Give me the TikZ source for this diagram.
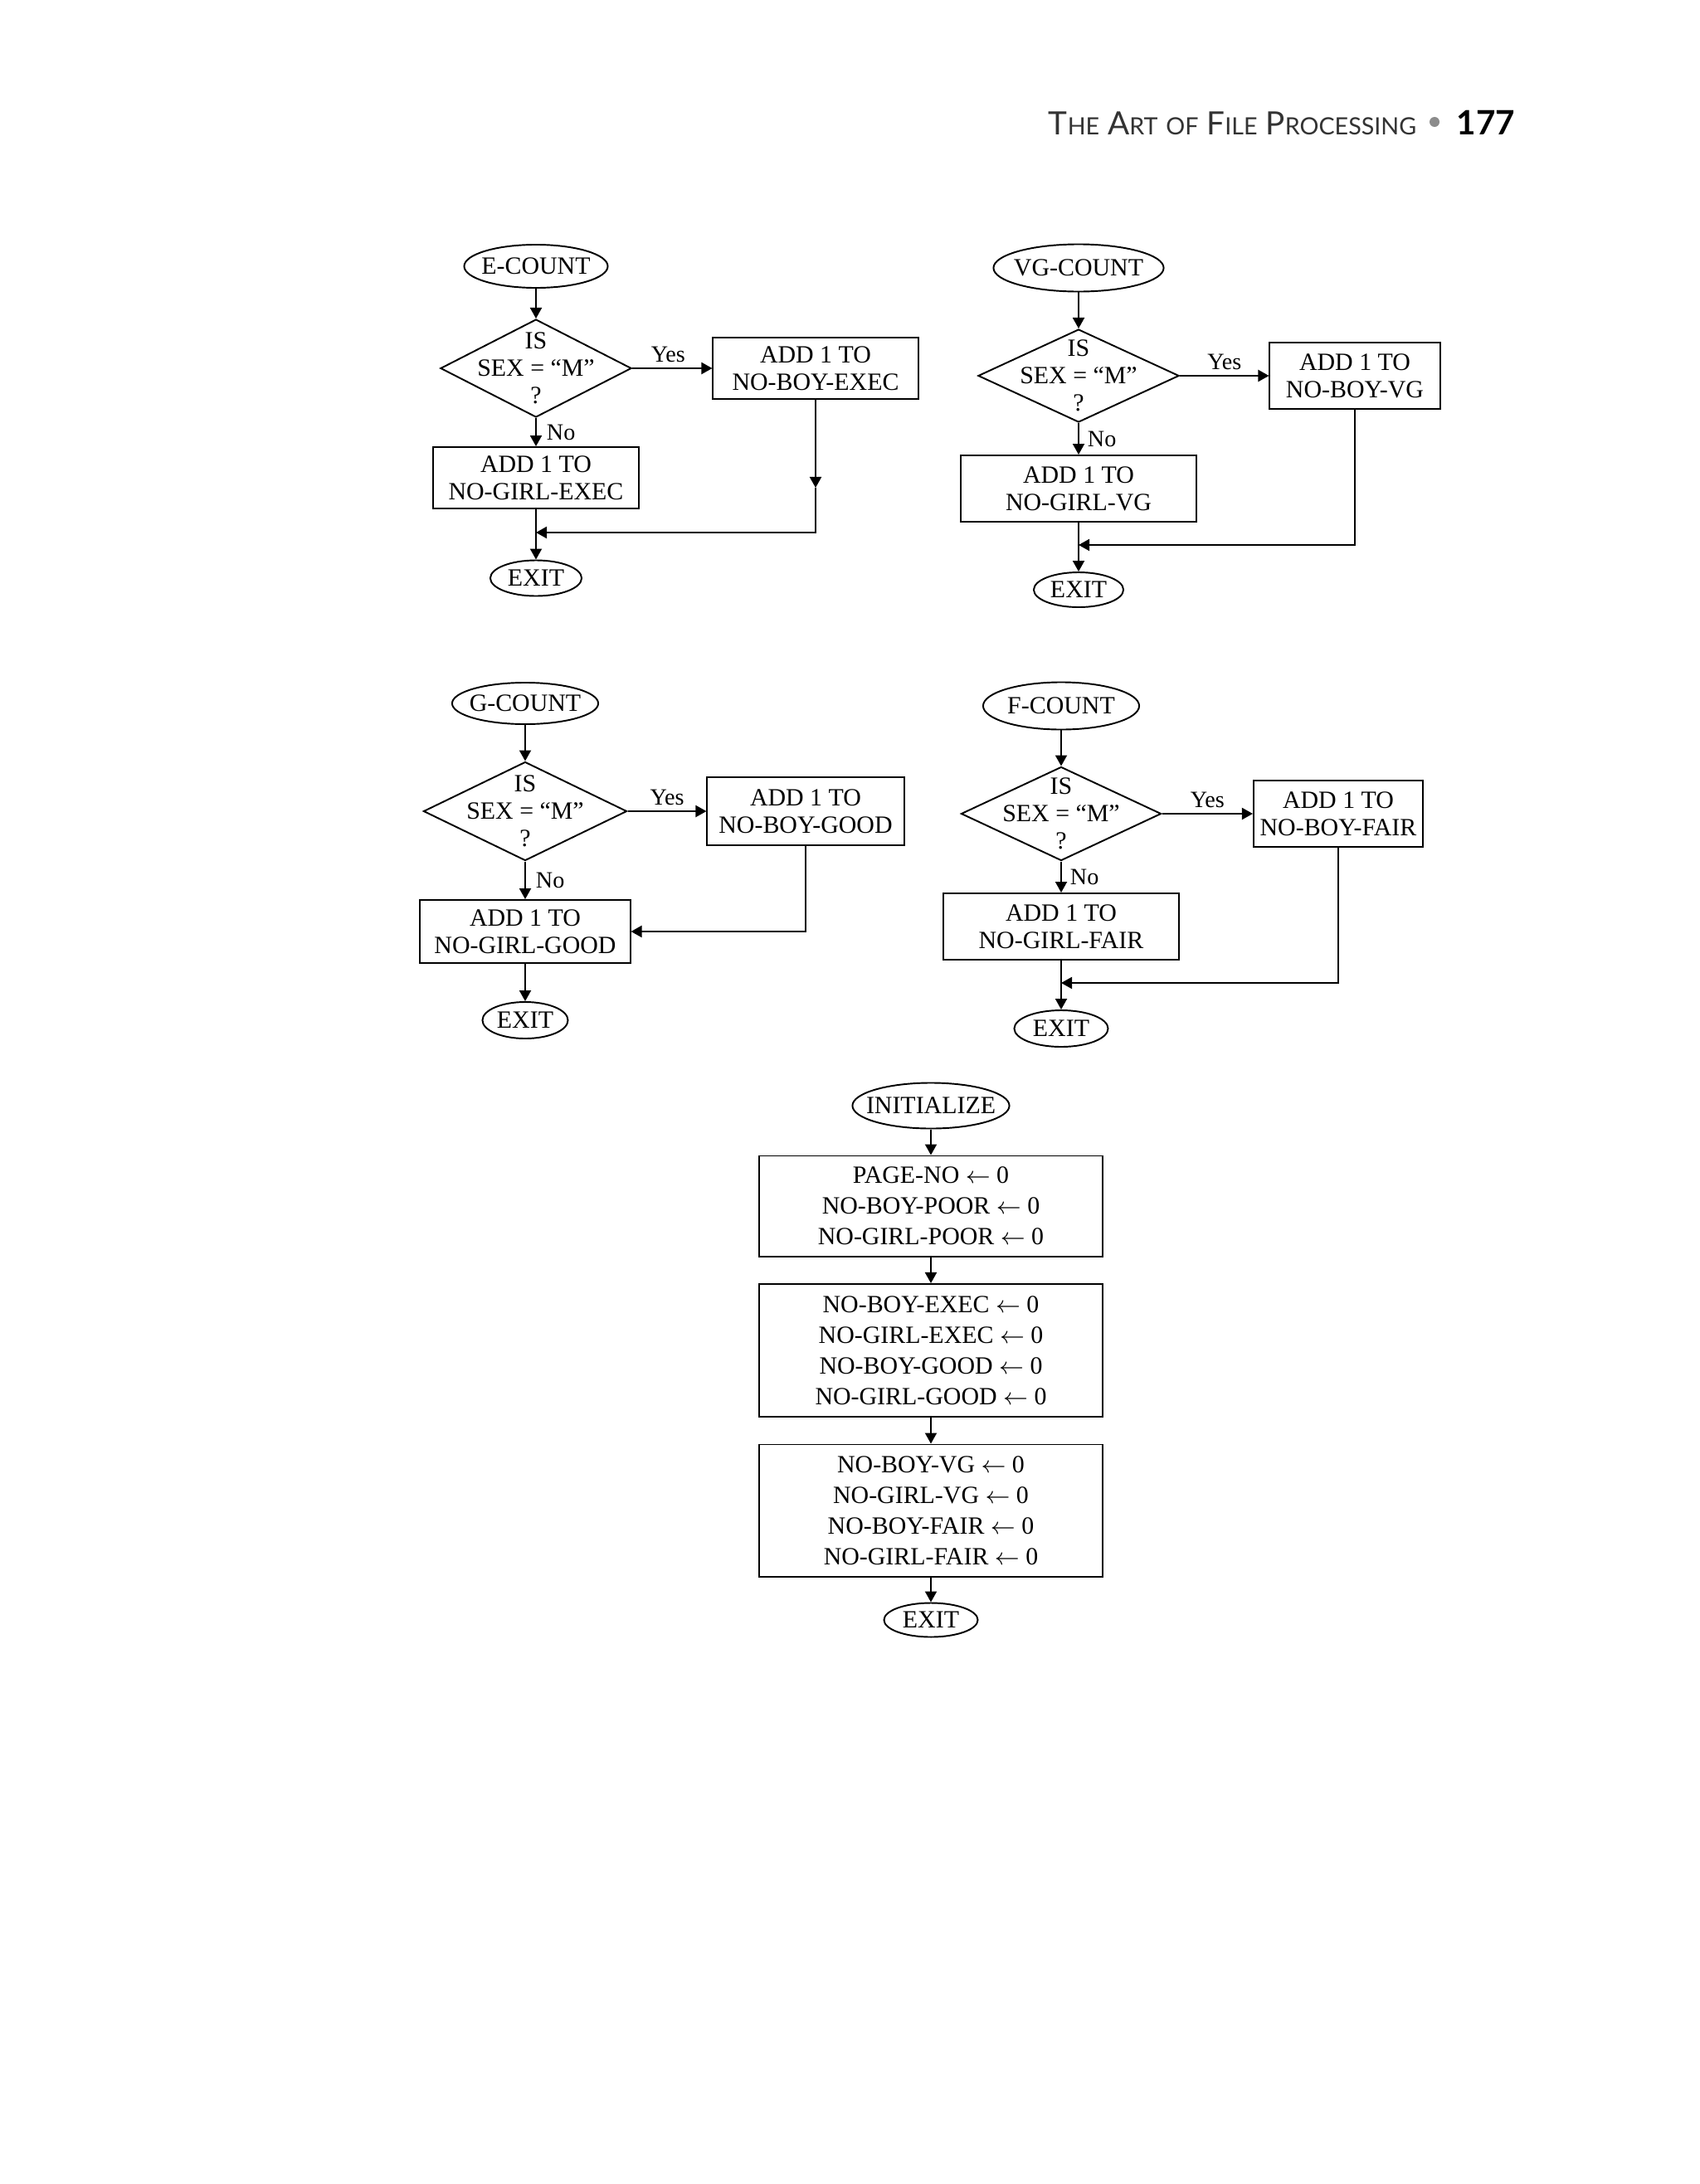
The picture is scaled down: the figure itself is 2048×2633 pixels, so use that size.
\documentclass[tikz,border=0pt]{standalone}
\usepackage{fontspec}
\setmainfont{Liberation Serif}
\newfontfamily\headfont{Lato}
\usetikzlibrary{shapes.geometric,arrows.meta}
\newcommand{\hdsc}[1]{{\fontsize{8.15}{9}\selectfont #1}}

\begin{document}
\begin{tikzpicture}[x=0.01cm, y=-0.01cm, line width=0.55pt,
            every node/.style={font=\fontsize{8.5}{9.4}\selectfont},
            terminal/.style={shape=ellipse, draw, inner xsep=-0.2cm, inner ysep=0pt},
            decision/.style={shape=diamond, draw, align=center, inner xsep=-0.5cm, inner ysep=-0.4cm},
            process/.style={shape=rectangle, draw, align=center, inner sep=0pt},
            initbox/.style={process, font=\fontsize{8.5}{10.5}\selectfont},
            answer/.style={inner sep=0pt, font=\fontsize{8}{9.6}\selectfont},
            flow/.style={-{Triangle[length=1.3mm, width=1.4mm]}}
        ]
        \path[fill=white] (0,0) rectangle (2048,2633);
        \useasboundingbox (0,0) rectangle (2048,2633);

        % running head
        \node[anchor=base west, inner sep=0pt, text=black!80,
              font=\headfont\fontsize{11}{12}\selectfont] (runhead) at (1263,162)
              {T\hdsc{HE} A\hdsc{RT} \hdsc{OF} F\hdsc{ILE} P\hdsc{ROCESSING}};
        \node[circle, fill=black!45, inner sep=0pt, minimum size=0.12cm] (bullet) at (1729,147) {};
        \node[anchor=base east, inner sep=0pt,
              font=\headfont\bfseries\fontsize{11.5}{13}\selectfont] (folio) at (1827,162) {177};

        % E-COUNT
        \begin{scope}
            \node[terminal, minimum width=1.73cm, minimum height=0.52cm] (ecount) at (646,321) {E-COUNT};
            \node[decision, minimum width=2.30cm, minimum height=1.18cm] (etest) at (646,444) {IS\\SEX = ``M''\\?};
            \node[process, minimum width=2.47cm, minimum height=0.74cm] (eboy) at (983,444) {ADD 1 TO\\NO-BOY-EXEC};
            \node[process, minimum width=2.47cm, minimum height=0.74cm] (egirl) at (646,576) {ADD 1 TO\\NO-GIRL-EXEC};
            \node[terminal, minimum width=1.10cm, minimum height=0.43cm] (eexit) at (646,697) {EXIT};
            \coordinate (emark) at (983,588);
            \coordinate (ejoin) at (646,642);

            \draw[flow] (ecount) -- (etest);
            \draw[flow] (etest) -- node[answer, above=0.06cm, xshift=-0.05cm] (eyes) {Yes} (eboy);
            \draw[flow] (etest) -- node[answer, right=0.12cm] (eno) {No} (egirl);
            \draw[flow] (egirl) -- (eexit);
            \draw[flow] (eboy) -- (emark);
            \draw[flow] (emark) |- (ejoin);
        \end{scope}

        % VG-COUNT
        \begin{scope}
            \node[terminal, minimum width=2.05cm, minimum height=0.57cm] (vgcount) at (1300,323) {VG-COUNT};
            \node[decision, minimum width=2.42cm, minimum height=1.12cm] (vgtest) at (1300,453) {IS\\SEX = ``M''\\?};
            \node[process, minimum width=2.05cm, minimum height=0.80cm] (vgboy) at (1633,453) {ADD 1 TO\\NO-BOY-VG};
            \node[process, minimum width=2.84cm, minimum height=0.80cm] (vggirl) at (1300,589) {ADD 1 TO\\NO-GIRL-VG};
            \node[terminal, minimum width=1.08cm, minimum height=0.42cm] (vgexit) at (1300,711) {EXIT};
            \coordinate (vgjoin) at (1300,657);

            \draw[flow] (vgcount) -- (vgtest);
            \draw[flow] (vgtest) -- node[answer, above=0.06cm] (vgyes) {Yes} (vgboy);
            \draw[flow] (vgtest) -- node[answer, right=0.1cm] (vgno) {No} (vggirl);
            \draw[flow] (vggirl) -- (vgexit);
            \draw[flow] (vgboy) |- (vgjoin);
        \end{scope}

        % G-COUNT
        \begin{scope}
            \node[terminal, minimum width=1.76cm, minimum height=0.50cm] (gcount) at (633,848) {G-COUNT};
            \node[decision, minimum width=2.45cm, minimum height=1.19cm] (gtest) at (633,978) {IS\\SEX = ``M''\\?};
            \node[process, minimum width=2.37cm, minimum height=0.82cm] (gboy) at (971,978) {ADD 1 TO\\NO-BOY-GOOD};
            \node[process, minimum width=2.53cm, minimum height=0.76cm] (ggirl) at (633,1123) {ADD 1 TO\\NO-GIRL-GOOD};
            \node[terminal, minimum width=1.03cm, minimum height=0.44cm] (gexit) at (633,1230) {EXIT};

            \draw[flow] (gcount) -- (gtest);
            \draw[flow] (gtest) -- node[answer, above=0.06cm] (gyes) {Yes} (gboy);
            \draw[flow] (gtest) -- node[answer, right=0.12cm] (gno) {No} (ggirl);
            \draw[flow] (ggirl) -- (gexit);
            \draw[flow] (gboy) |- (ggirl);
        \end{scope}

        % F-COUNT
        \begin{scope}
            \node[terminal, minimum width=1.88cm, minimum height=0.57cm] (fcount) at (1279,851) {F-COUNT};
            \node[decision, minimum width=2.41cm, minimum height=1.13cm] (ftest) at (1279,981) {IS\\SEX = ``M''\\?};
            \node[process, minimum width=2.04cm, minimum height=0.80cm] (fboy) at (1613,981) {ADD 1 TO\\NO-BOY-FAIR};
            \node[process, minimum width=2.84cm, minimum height=0.80cm] (fgirl) at (1279,1117) {ADD 1 TO\\NO-GIRL-FAIR};
            \node[terminal, minimum width=1.13cm, minimum height=0.44cm] (fexit) at (1279,1240) {EXIT};
            \coordinate (fjoin) at (1279,1185);

            \draw[flow] (fcount) -- (ftest);
            \draw[flow] (ftest) -- node[answer, above=0.06cm] (fyes) {Yes} (fboy);
            \draw[flow] (ftest) -- node[answer, right=0.1cm] (fno) {No} (fgirl);
            \draw[flow] (fgirl) -- (fexit);
            \draw[flow] (fboy) |- (fjoin);
        \end{scope}

        % INITIALIZE
        \begin{scope}
            \node[terminal, minimum width=1.89cm, minimum height=0.55cm] (init) at (1122,1333) {INITIALIZE};
            \node[initbox, minimum width=4.13cm, minimum height=1.21cm] (initpage) at (1122,1454)
                {PAGE-NO $\leftarrow$ 0\\NO-BOY-POOR $\leftarrow$ 0\\NO-GIRL-POOR $\leftarrow$ 0};
            \node[initbox, minimum width=4.13cm, minimum height=1.60cm] (initexgd) at (1122,1628)
                {NO-BOY-EXEC $\leftarrow$ 0\\NO-GIRL-EXEC $\leftarrow$ 0\\NO-BOY-GOOD $\leftarrow$ 0\\NO-GIRL-GOOD $\leftarrow$ 0};
            \node[initbox, minimum width=4.13cm, minimum height=1.59cm] (initvgfr) at (1122,1821)
                {NO-BOY-VG $\leftarrow$ 0\\NO-GIRL-VG $\leftarrow$ 0\\NO-BOY-FAIR $\leftarrow$ 0\\NO-GIRL-FAIR $\leftarrow$ 0};
            \node[terminal, minimum width=1.13cm, minimum height=0.41cm] (initexit) at (1122,1953) {EXIT};

            \draw[flow] (init) -- (initpage);
            \draw[flow] (initpage) -- (initexgd);
            \draw[flow] (initexgd) -- (initvgfr);
            \draw[flow] (initvgfr) -- (initexit);
        \end{scope}
    \end{tikzpicture}
\end{document}
